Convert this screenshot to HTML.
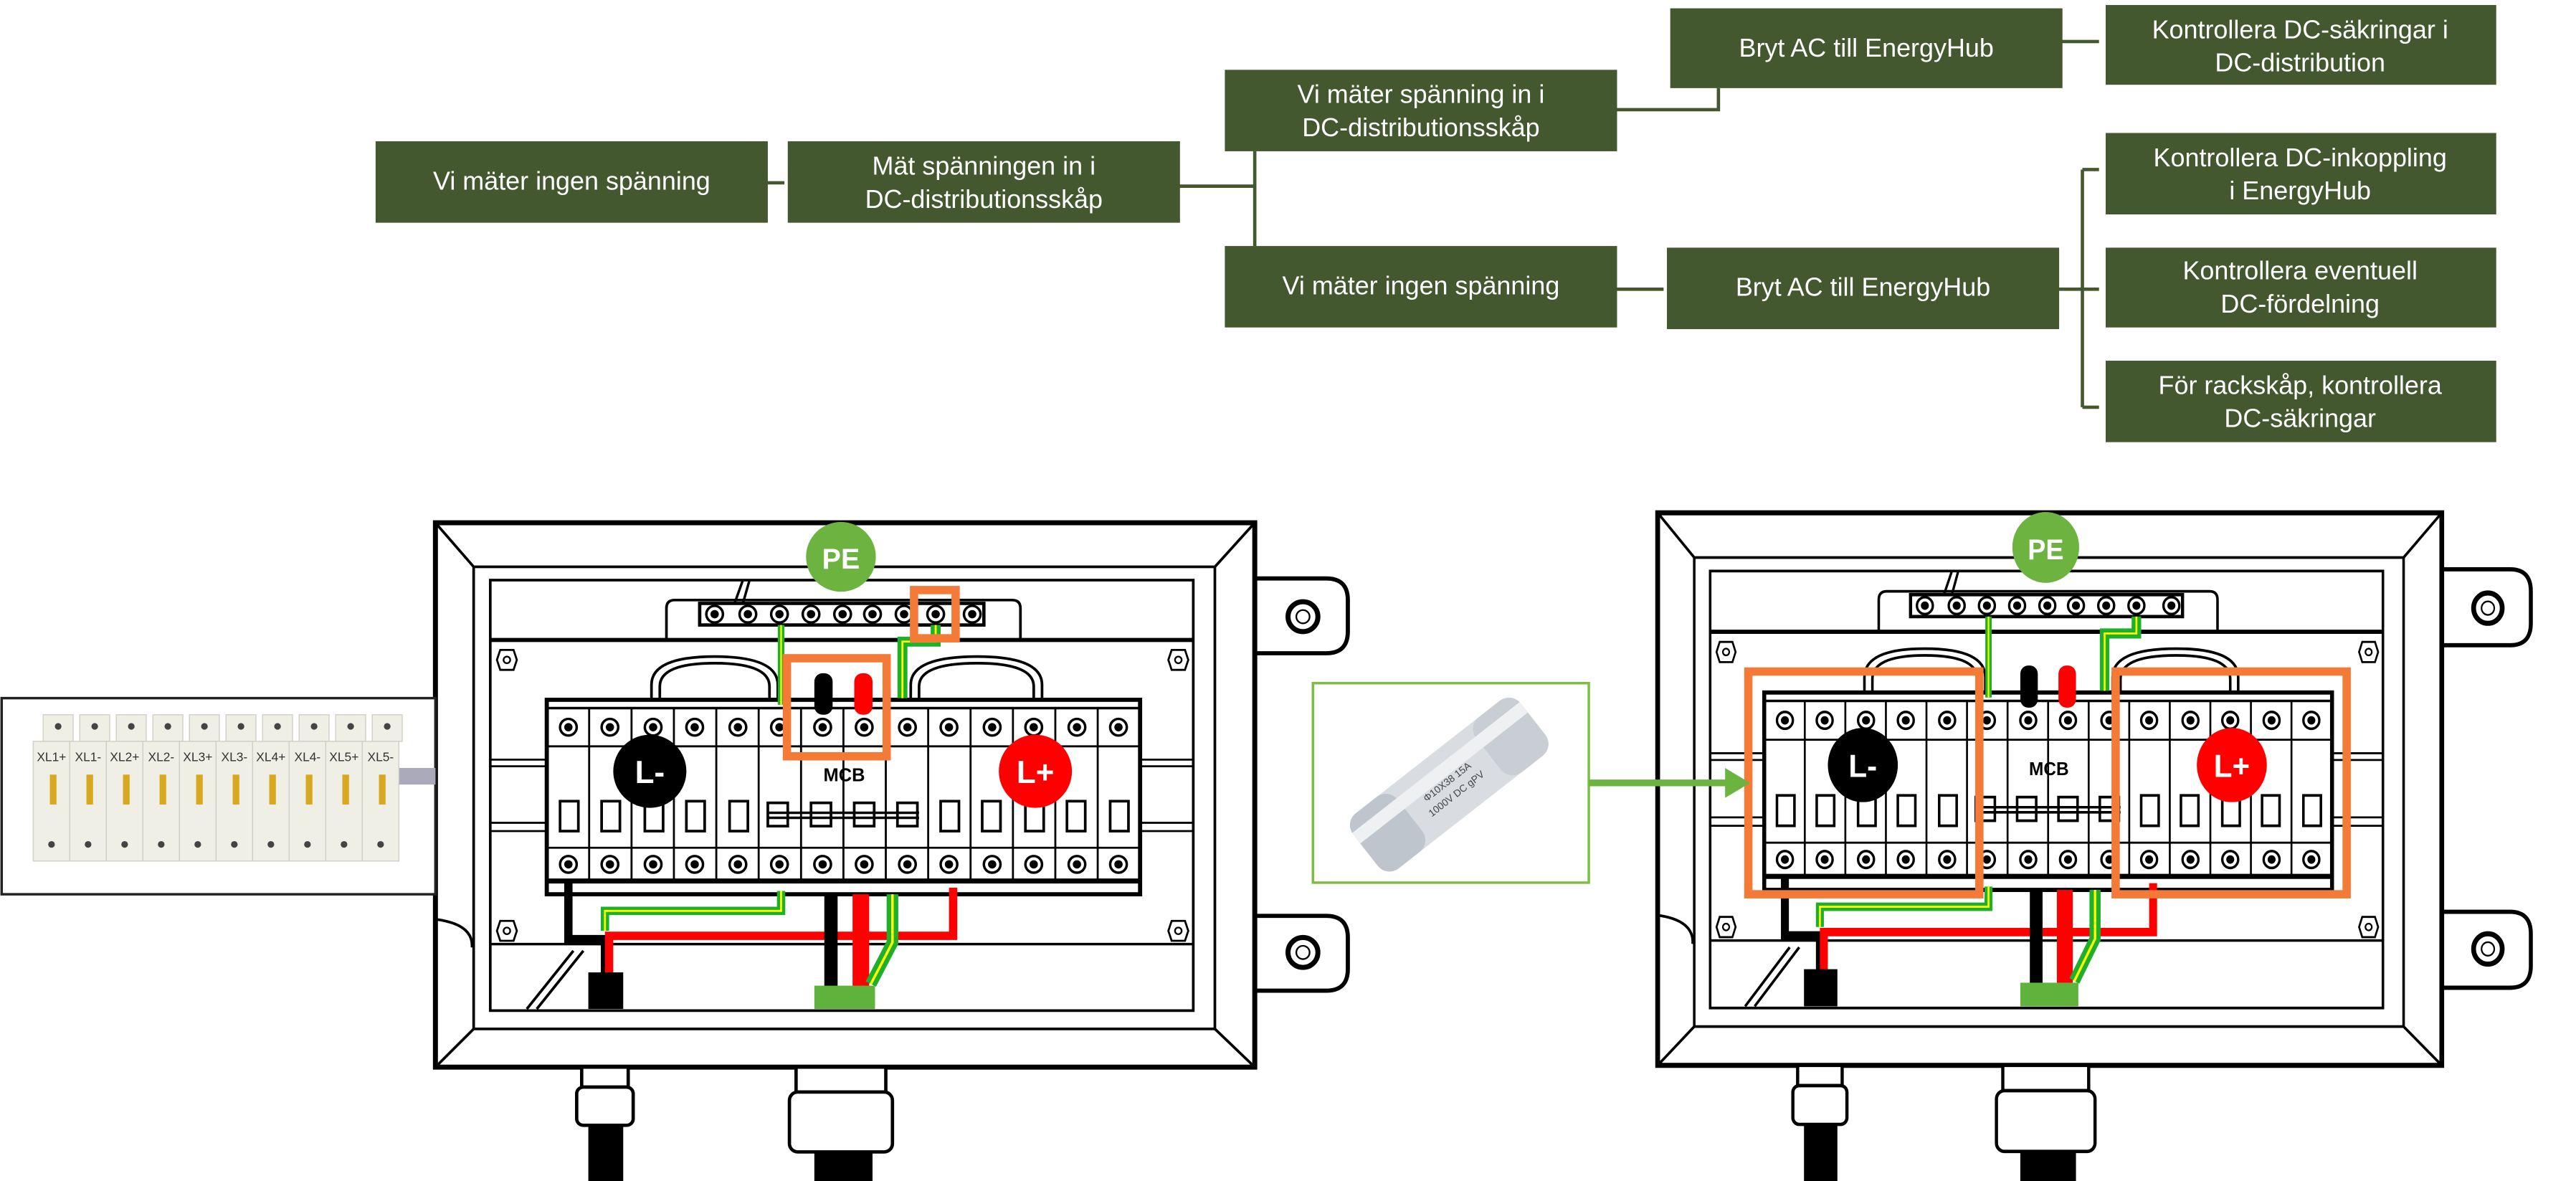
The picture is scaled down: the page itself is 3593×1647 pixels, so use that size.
<!DOCTYPE html>
<html><head><meta charset="utf-8"><style>
html,body{margin:0;padding:0;background:#fff;width:3593px;height:1647px;overflow:hidden}
svg{display:block}
.b{fill:#43582f}
.t{fill:#fff;font-family:"Liberation Sans",sans-serif;font-size:15.5px;text-anchor:middle}
.c{stroke:#43582f;stroke-width:2;fill:none}
.k{stroke:#000;fill:none;stroke-width:1.6}
</style></head><body>
<svg width="3593" height="1647" viewBox="0 0 1550 710.5" preserveAspectRatio="none" xmlns="http://www.w3.org/2000/svg">
<defs>
<g id="scr"><circle r="5" fill="#fff" stroke="#000" stroke-width="1.5"/><circle r="2.5" fill="#000"/></g>
<g id="hex"><polygon points="-4,-6 4,-6 6,0 4,6 -4,6 -6,0" fill="#fff" stroke="#000" stroke-width="1.2"/><circle r="2" fill="none" stroke="#000"/></g>
<g id="enc">
 <!-- ears -->
 <path d="M755 348 H798 Q811 348 811 361 V380 Q811 393 798 393 H755" fill="#fff" stroke="#000" stroke-width="2.5"/>
 <path d="M755 551 H798 Q811 551 811 564 V583 Q811 596 798 596 H755" fill="#fff" stroke="#000" stroke-width="2.5"/>
 <circle cx="784" cy="371" r="9" fill="#fff" stroke="#000" stroke-width="3"/><circle cx="784" cy="371" r="4" fill="none" stroke="#000"/>
 <circle cx="784" cy="573" r="9" fill="#fff" stroke="#000" stroke-width="3"/><circle cx="784" cy="573" r="4" fill="none" stroke="#000"/>
 <!-- frame -->
 <rect x="262" y="314.5" width="493" height="327.5" fill="#fff" stroke="#000" stroke-width="3"/>
 <rect x="285" y="341" width="446" height="278" class="k" stroke-width="2.5"/>
 <path d="M262 314.5 L285 341 M755 314.5 L731 341 M262 642 L285 619 M755 642 L731 619" class="k" stroke-width="2"/>
 <rect x="295" y="349" width="423" height="259" class="k" stroke-width="2.5"/>
 <line x1="295" y1="385" x2="718" y2="385" stroke="#000" stroke-width="2.5"/>
 <line x1="295" y1="568" x2="718" y2="568" stroke="#000" stroke-width="1.5"/>
 <!-- DIN rail -->
 <path d="M295 457 H718 M295 461 H718 M295 495 H718 M295 500 H718" stroke="#000" stroke-width="1.2"/>
 <use href="#hex" x="305" y="397"/><use href="#hex" x="709" y="397"/><use href="#hex" x="305" y="560"/><use href="#hex" x="709" y="560"/>
 <!-- bus bar -->
 <path d="M401 385 V366 Q401 361 406 361 H609 Q614 361 614 366 V385" class="k" stroke-width="2"/>
 <rect x="421" y="363" width="171" height="13" fill="#fff" stroke="#000" stroke-width="2"/>
 <g><use href="#scr" x="430" y="369.5"/><use href="#scr" x="450" y="369.5"/><use href="#scr" x="469" y="369.5"/><use href="#scr" x="488" y="369.5"/><use href="#scr" x="507" y="369.5"/><use href="#scr" x="525" y="369.5"/><use href="#scr" x="544" y="369.5"/><use href="#scr" x="563" y="369.5"/><use href="#scr" x="585" y="369.5"/></g>
 <path d="M447 349 L442 363 M451 349 L447 363" stroke="#000" stroke-width="1.5"/>
 <!-- handles -->
 <path d="M392 424 V412 Q392 395 430 395 Q468 395 468 412 V424" class="k" stroke-width="1.5"/>
 <path d="M397 424 V413 Q397 399 430 399 Q463 399 463 413 V424" class="k" stroke-width="1.5"/>
 <path d="M548 424 V412 Q548 395 588 395 Q627 395 627 412 V424" class="k" stroke-width="1.5"/>
 <path d="M553 424 V413 Q553 399 588 399 Q622 399 622 413 V424" class="k" stroke-width="1.5"/>
 <!-- breaker block -->
 <rect x="329" y="421" width="357" height="117" fill="#fff" stroke="#000" stroke-width="2.5"/>
 <line x1="329" y1="426" x2="686" y2="426" stroke="#000" stroke-width="1.5"/>
 <line x1="329" y1="530" x2="686" y2="530" stroke="#000" stroke-width="3"/>
 <g stroke="#000" stroke-width="1.2">
 <path d="M354.5 426V530M380 426V530M405.5 426V530M431 426V530M456.5 426V530M482 426V530M507.5 426V530M533 426V530M558.5 426V530M584 426V530M609.5 426V530M635 426V530M660.5 426V530"/>
 <path d="M329 449H686M329 510H686"/>
 </g>
 <g id="row">
 <use href="#scr" x="342" y="437.5"/><use href="#scr" x="367" y="437.5"/><use href="#scr" x="393" y="437.5"/><use href="#scr" x="418" y="437.5"/><use href="#scr" x="444" y="437.5"/><use href="#scr" x="469" y="437.5"/><use href="#scr" x="495" y="437.5"/><use href="#scr" x="520" y="437.5"/><use href="#scr" x="546" y="437.5"/><use href="#scr" x="571" y="437.5"/><use href="#scr" x="597" y="437.5"/><use href="#scr" x="622" y="437.5"/><use href="#scr" x="648" y="437.5"/><use href="#scr" x="673" y="437.5"/>
 </g>
 <use href="#row" y="82.5"/>
 <g fill="#fff" stroke="#000" stroke-width="1.6">
 <rect x="337" y="482" width="11" height="18"/><rect x="362" y="482" width="11" height="18"/><rect x="388" y="482" width="11" height="18"/><rect x="413" y="482" width="11" height="18"/><rect x="439" y="482" width="11" height="18"/>
 <rect x="566" y="482" width="11" height="18"/><rect x="591" y="482" width="11" height="18"/><rect x="617" y="482" width="11" height="18"/><rect x="642" y="482" width="11" height="18"/><rect x="668" y="482" width="11" height="18"/>
 <rect x="462" y="483" width="12" height="14"/><rect x="488" y="483" width="12" height="14"/><rect x="514" y="483" width="12" height="14"/><rect x="540" y="483" width="12" height="14"/>
 </g>
 <path d="M462 489 H553 M462 492 H553" stroke="#000" stroke-width="1.5"/>
 <circle cx="391" cy="464" r="22" fill="#000"/><text x="391" y="471" fill="#fff" font-family="Liberation Sans,sans-serif" font-weight="bold" font-size="19" text-anchor="middle">L-</text>
 <circle cx="623" cy="464" r="22" fill="#f00"/><text x="623" y="471" fill="#fff" font-family="Liberation Sans,sans-serif" font-weight="bold" font-size="19" text-anchor="middle">L+</text>
 <text x="508" y="470" font-family="Liberation Sans,sans-serif" font-weight="bold" font-size="11" text-anchor="middle">MCB</text>
 <!-- wires -->
 <path d="M342 531 V565 H364 V588" stroke="#000" stroke-width="5" fill="none"/>
 <path d="M366.5 585 V563 H573.5 V534" stroke="#f00" stroke-width="5" fill="none"/>
 <path d="M470 536 V548 H364 V560" stroke="#1fb02b" stroke-width="5" fill="none"/><path d="M470 536 V548 H364 V560" stroke="#ff0" stroke-width="1.2" fill="none"/>
 <rect x="354" y="585" width="21" height="22" fill="#000"/>
 <rect x="496" y="538" width="8" height="56" fill="#000"/><rect x="513" y="538" width="10" height="56" fill="#f00"/>
 <path d="M537 538 V567 L524 592" stroke="#1fb02b" stroke-width="7" fill="none"/><path d="M537 538 V567 L524 592" stroke="#ff0" stroke-width="1.5" fill="none"/>
 <rect x="490" y="593" width="36.5" height="14" fill="#5fb33d"/>
 <path d="M470 376 V424" stroke="#1fb02b" stroke-width="4"/><path d="M470 376 V424" stroke="#ff0" stroke-width="1"/>
 <path d="M563 376 V386 H543 V420" stroke="#1fb02b" stroke-width="6" fill="none"/><path d="M563 376 V386 H543 V420" stroke="#ff0" stroke-width="1.2" fill="none"/>
 <rect x="490" y="405" width="11" height="25" rx="5" fill="#000"/><rect x="514" y="405" width="11" height="25" rx="5" fill="#f00"/>
 <path d="M262 553 Q285 556 284 570" class="k" stroke-width="2"/>
 <path d="M317 607 L345 572 M323 607 L351 572" class="k" stroke-width="1"/>
 <!-- PE -->
 <circle cx="506" cy="335" r="21" fill="#6db33f"/><text x="506" y="342" fill="#fff" font-family="Liberation Sans,sans-serif" font-weight="bold" font-size="17" text-anchor="middle">PE</text>
 <!-- glands -->
 <g fill="#fff" stroke="#000" stroke-width="2">
 <rect x="350" y="642" width="28" height="12"/><rect x="347" y="654" width="34" height="23" rx="4"/><rect x="479" y="642" width="54" height="15"/><rect x="475" y="657" width="62" height="36" rx="5"/>
 </g>
 <rect x="354" y="677" width="21" height="34" fill="#000"/><rect x="490" y="693" width="35" height="18" fill="#000"/>
</g>
</defs>

<!-- flowchart -->
<g>
<path class="c" d="M459 110 H472 M708 112 H755 M755 91 V148 M971 66 H1034 V53 M1239 25 H1263 M971 174 H1001 M1237 174 H1263 M1253 102 V245 M1253 102 H1263 M1253 245 H1263"/>
<rect class="b" x="226" y="85" width="236" height="49"/><text class="t" x="344" y="114">Vi mäter ingen spänning</text>
<rect class="b" x="474" y="85" width="236" height="49"/><text class="t" x="592" y="105">Mät spänningen in i</text><text class="t" x="592" y="125">DC-distributionsskåp</text>
<rect class="b" x="737" y="42" width="236" height="49"/><text class="t" x="855" y="62">Vi mäter spänning in i</text><text class="t" x="855" y="82">DC-distributionsskåp</text>
<rect class="b" x="1005" y="5" width="236" height="48"/><text class="t" x="1123" y="34">Bryt AC till EnergyHub</text>
<rect class="b" x="1267" y="3" width="235" height="48"/><text class="t" x="1384" y="23">Kontrollera DC-säkringar i</text><text class="t" x="1384" y="43">DC-distribution</text>
<rect class="b" x="1267" y="80" width="235" height="49"/><text class="t" x="1384" y="100">Kontrollera DC-inkoppling</text><text class="t" x="1384" y="120">i EnergyHub</text>
<rect class="b" x="737" y="148" width="236" height="49"/><text class="t" x="855" y="177">Vi mäter ingen spänning</text>
<rect class="b" x="1003" y="149" width="236" height="49"/><text class="t" x="1121" y="178">Bryt AC till EnergyHub</text>
<rect class="b" x="1267" y="149" width="235" height="48"/><text class="t" x="1384" y="168">Kontrollera eventuell</text><text class="t" x="1384" y="188">DC-fördelning</text>
<rect class="b" x="1267" y="217" width="235" height="49"/><text class="t" x="1384" y="237">För rackskåp, kontrollera</text><text class="t" x="1384" y="257">DC-säkringar</text>
</g>

<!-- enclosures -->
<use href="#enc"/>
<use href="#enc" transform="matrix(0.957,0,0,1.015,746.7,-10.7)"/>

<!-- left photo -->
<rect x="1" y="420" width="261" height="118" fill="#fff" stroke="#222" stroke-width="1.5"/>
<g font-family="Liberation Sans,sans-serif" font-size="7.5" text-anchor="middle" fill="#333">
<rect x="240" y="462" width="22" height="10" fill="#aab"/>
<g fill="#efefe6" stroke="#cfcfc4" stroke-width="0.6">
<rect x="26" y="430" width="18" height="16"/><rect x="48" y="430" width="18" height="16"/><rect x="70" y="430" width="18" height="16"/><rect x="92" y="430" width="18" height="16"/><rect x="114" y="430" width="18" height="16"/><rect x="136" y="430" width="18" height="16"/><rect x="158" y="430" width="18" height="16"/><rect x="180" y="430" width="18" height="16"/><rect x="202" y="430" width="18" height="16"/><rect x="224" y="430" width="18" height="16"/>
<rect x="20" y="446" width="22" height="72"/><rect x="42" y="446" width="22" height="72"/><rect x="64" y="446" width="22" height="72"/><rect x="86" y="446" width="22" height="72"/><rect x="108" y="446" width="22" height="72"/><rect x="130" y="446" width="22" height="72"/><rect x="152" y="446" width="22" height="72"/><rect x="174" y="446" width="22" height="72"/><rect x="196" y="446" width="22" height="72"/><rect x="218" y="446" width="22" height="72"/>
</g>
<g fill="#d8a920"><rect x="30" y="466" width="4" height="18"/><rect x="52" y="466" width="4" height="18"/><rect x="74" y="466" width="4" height="18"/><rect x="96" y="466" width="4" height="18"/><rect x="118" y="466" width="4" height="18"/><rect x="140" y="466" width="4" height="18"/><rect x="162" y="466" width="4" height="18"/><rect x="184" y="466" width="4" height="18"/><rect x="206" y="466" width="4" height="18"/><rect x="228" y="466" width="4" height="18"/></g>
<g fill="#444"><circle cx="35" cy="437" r="2"/><circle cx="57" cy="437" r="2"/><circle cx="79" cy="437" r="2"/><circle cx="101" cy="437" r="2"/><circle cx="123" cy="437" r="2"/><circle cx="145" cy="437" r="2"/><circle cx="167" cy="437" r="2"/><circle cx="189" cy="437" r="2"/><circle cx="211" cy="437" r="2"/><circle cx="233" cy="437" r="2"/>
<circle cx="31" cy="508" r="2"/><circle cx="53" cy="508" r="2"/><circle cx="75" cy="508" r="2"/><circle cx="97" cy="508" r="2"/><circle cx="119" cy="508" r="2"/><circle cx="141" cy="508" r="2"/><circle cx="163" cy="508" r="2"/><circle cx="185" cy="508" r="2"/><circle cx="207" cy="508" r="2"/><circle cx="229" cy="508" r="2"/></g>
<text x="31" y="458">XL1+</text><text x="53" y="458">XL1-</text><text x="75" y="458">XL2+</text><text x="97" y="458">XL2-</text><text x="119" y="458">XL3+</text><text x="141" y="458">XL3-</text><text x="163" y="458">XL4+</text><text x="185" y="458">XL4-</text><text x="207" y="458">XL5+</text><text x="229" y="458">XL5-</text>
</g>

<!-- overlays -->
<g fill="none" stroke="#f47a38" stroke-width="5">
<rect x="473.5" y="396" width="60" height="59"/><rect x="550" y="355" width="25" height="29"/>
<rect x="1052" y="404" width="139" height="134"/><rect x="1273" y="404" width="139" height="134"/>
</g>
<rect x="790" y="411" width="166" height="120" fill="#fff" stroke="#7bc043" stroke-width="1.5"/>
<g transform="translate(872,472) rotate(-38)">
<rect x="-64" y="-21" width="128" height="42" rx="9" fill="#d9dde2"/>
<rect x="-64" y="-21" width="34" height="42" rx="9" fill="#bfc5cc"/>
<rect x="30" y="-21" width="34" height="42" rx="9" fill="#c9ced4"/>
<rect x="-64" y="-13" width="128" height="8" fill="#eef0f2"/>
<text x="0" y="0" font-family="Liberation Sans,sans-serif" font-size="6" text-anchor="middle" fill="#444">Φ10X38 15A</text>
<text x="0" y="9" font-family="Liberation Sans,sans-serif" font-size="6" text-anchor="middle" fill="#444">1000V DC gPV</text>
</g>
<path d="M956 471 H1040" stroke="#6db33f" stroke-width="4"/>
<polygon points="1053,471 1038,462 1038,480" fill="#6db33f"/>
</svg>
</body></html>
